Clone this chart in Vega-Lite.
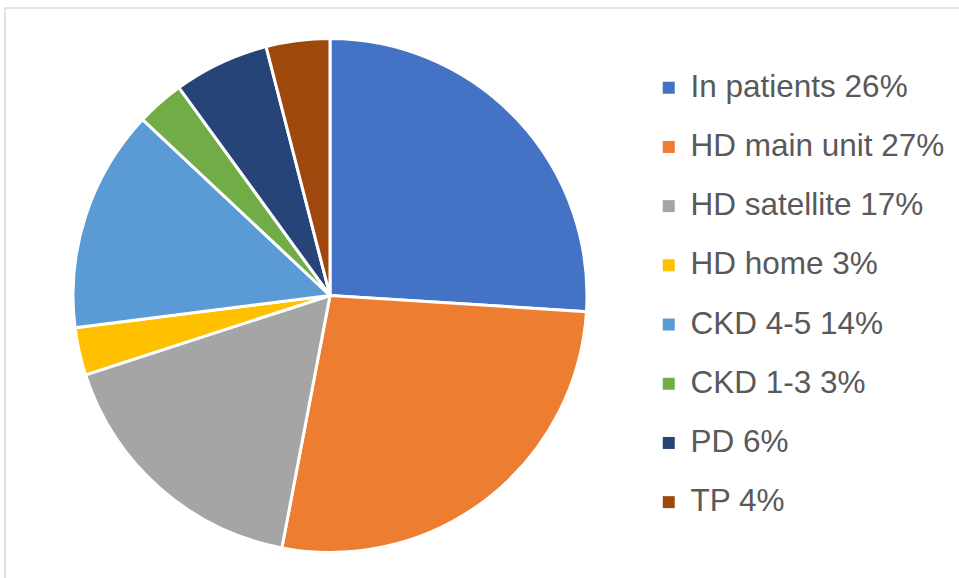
{
  "$schema": "https://vega.github.io/schema/vega-lite/v6.json",
  "width": 1000,
  "height": 600,
  "autosize": {"type": "none"},
  "padding": {"left": 5, "top": 8, "right": 0, "bottom": 0},
  "background": "white",
  "view": {"stroke": "#D9D9D9", "strokeWidth": 1.5, "fill": "white"},
  "config": {
    "font": "Liberation Sans"
  },
  "data": {
    "values": [
      {"order": 1, "label": "In patients 26%", "value": 26},
      {"order": 2, "label": "HD main unit 27%", "value": 27},
      {"order": 3, "label": "HD satellite 17%", "value": 17},
      {"order": 4, "label": "HD home 3%", "value": 3},
      {"order": 5, "label": "CKD 4-5 14%", "value": 14},
      {"order": 6, "label": "CKD 1-3 3%", "value": 3},
      {"order": 7, "label": "PD 6%", "value": 6},
      {"order": 8, "label": "TP 4%", "value": 4}
    ]
  },
  "mark": {"type": "arc", "outerRadius": 257, "stroke": "white", "strokeWidth": 3, "xOffset": -175, "yOffset": -12.5},
  "encoding": {
    "theta": {"field": "value", "type": "quantitative", "stack": true},
    "order": {"field": "order", "type": "quantitative"},
    "color": {
      "field": "label",
      "type": "nominal",
      "sort": ["In patients 26%", "HD main unit 27%", "HD satellite 17%", "HD home 3%", "CKD 4-5 14%", "CKD 1-3 3%", "PD 6%", "TP 4%"],
      "scale": {
        "domain": ["In patients 26%", "HD main unit 27%", "HD satellite 17%", "HD home 3%", "CKD 4-5 14%", "CKD 1-3 3%", "PD 6%", "TP 4%"],
        "range": ["#4472C4", "#ED7D31", "#A5A5A5", "#FFC000", "#5B9BD5", "#70AD47", "#264478", "#9E480E"]
      },
      "legend": {
        "title": null,
        "orient": "none",
        "legendX": 648,
        "legendY": 64,
        "symbolType": "square",
        "symbolSize": 144,
        "symbolStrokeWidth": 0,
        "labelFontSize": 31.5,
        "labelColor": "#595959",
        "labelOffset": 6,
        "labelLimit": 400,
        "rowPadding": 26.2
      }
    }
  }
}
